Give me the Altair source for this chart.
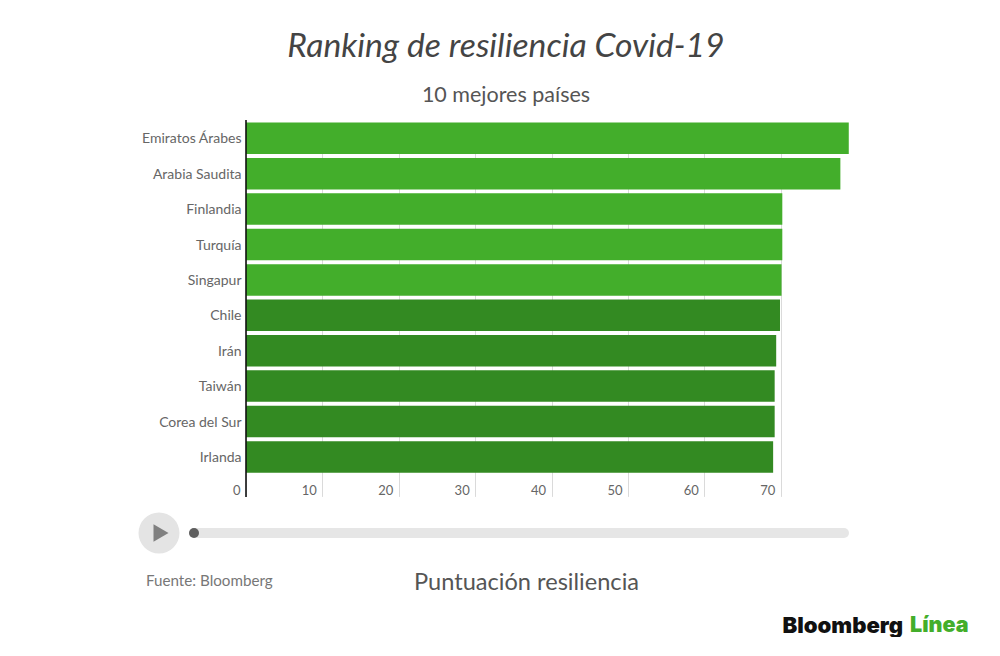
import altair as alt
import pandas as pd

countries = ["Emiratos Árabes", "Arabia Saudita", "Finlandia", "Turquía", "Singapur",
             "Chile", "Irán", "Taiwán", "Corea del Sur", "Irlanda"]
scores = [78.9, 77.8, 70.2, 70.2, 70.1, 69.9, 69.4, 69.2, 69.2, 69.0]
groups = ["a", "a", "a", "a", "a", "b", "b", "b", "b", "b"]
x_ticks = [0, 10, 20, 30, 40, 50, 60, 70]
group_names = ["a", "b"]
group_colors = ["#43AE2B", "#338A22"]

W, H = 603, 377
FONT = "Lato"
df = pd.DataFrame({"pais": countries, "score": scores, "grupo": groups})

x_scale = alt.Scale(domain=[0, 78.93], nice=False, zero=True)

bars = alt.Chart(df).mark_bar(size=31.5, clip=False).encode(
    x=alt.X("score:Q", scale=x_scale, axis=alt.Axis(
        values=x_ticks, grid=True, gridColor="#DADADA", gridWidth=1,
        domain=False, ticks=False, labelAlign="right", labelBaseline="middle",
        labelPadding=-7, labelOffset=-6, labelFont=FONT, labelFontSize=13,
        labelColor="#666666", labelOverlap=False, labelBound=False, labelFlush=False,
        title="Puntuación resiliencia", titleFont=FONT, titleFontSize=23.6,
        titleFontWeight="normal", titleColor="#555555", titleX=280, titleY=85,
        titleAlign="center", titleBaseline="middle")),
    y=alt.Y("pais:N", sort=countries, scale=alt.Scale(
        domain=countries, range=[0.6, 354.6], paddingInner=0.11, paddingOuter=0.055),
        axis=alt.Axis(title=None, domain=False, ticks=False, labelPadding=5, labelOffset=1,
                      labelFont=FONT, labelFontSize=14, labelColor="#666666")),
    color=alt.Color("grupo:N", scale=alt.Scale(domain=group_names, range=group_colors), legend=None),
)


def text(label, x, y, size, color, align="center", weight="normal", style="normal", font=FONT):
    return alt.Chart(pd.DataFrame({"t": [label]})).mark_text(
        font=font, fontSize=size, color=color, align=align, baseline="middle",
        fontWeight=weight, fontStyle=style, clip=False
    ).encode(x=alt.value(x), y=alt.value(y), text="t:N")


def symbol(shape, x, y, size, color):
    return alt.Chart(pd.DataFrame({"s": [shape]})).mark_point(
        shape=shape, filled=True, size=size, color=color, opacity=1, clip=False
    ).encode(x=alt.value(x), y=alt.value(y))


axis_line = alt.Chart(pd.DataFrame({"v": [0]})).mark_rule(color="#111111", strokeWidth=1.6).encode(
    x=alt.X("v:Q", scale=x_scale), y=alt.value(0), y2=alt.value(H))

track = alt.Chart(pd.DataFrame({"s": ["track"]})).mark_rule(
    color="#E6E6E6", strokeWidth=10, strokeCap="round", clip=False
).encode(x=alt.value(-52), x2=alt.value(598), y=alt.value(413))

chart = alt.layer(
    bars,
    axis_line,
    track,
    symbol("circle", -87, 413, 1681, "#E4E4E4"),
    symbol("triangle-right", -85, 413, 300, "#808080"),
    symbol("circle", -52, 413, 100, "#5E5E5E"),
    text("Ranking de resiliencia Covid-19", 260, -73, 33.7, "#444444", style="italic"),
    text("10 mejores países", 260, -24.5, 21.5, "#555555"),
    text("Fuente: Bloomberg", -100, 460.5, 15.2, "#777777", align="left"),
    text("Bloomberg", 657, 506, 22.1, "#111111", align="right", weight=900, font="Inter"),
    text("Línea", 664, 506, 21.5, "#43AE2B", align="left", weight=900, font="Inter"),
).properties(
    width=W, height=H,
    autosize=alt.AutoSizeParams(type="none"),
    padding={"left": 238, "top": 112, "right": 135, "bottom": 140},
).configure_view(stroke=None)

chart.save("out.html", embed_options={"renderer": "svg", "actions": False})
